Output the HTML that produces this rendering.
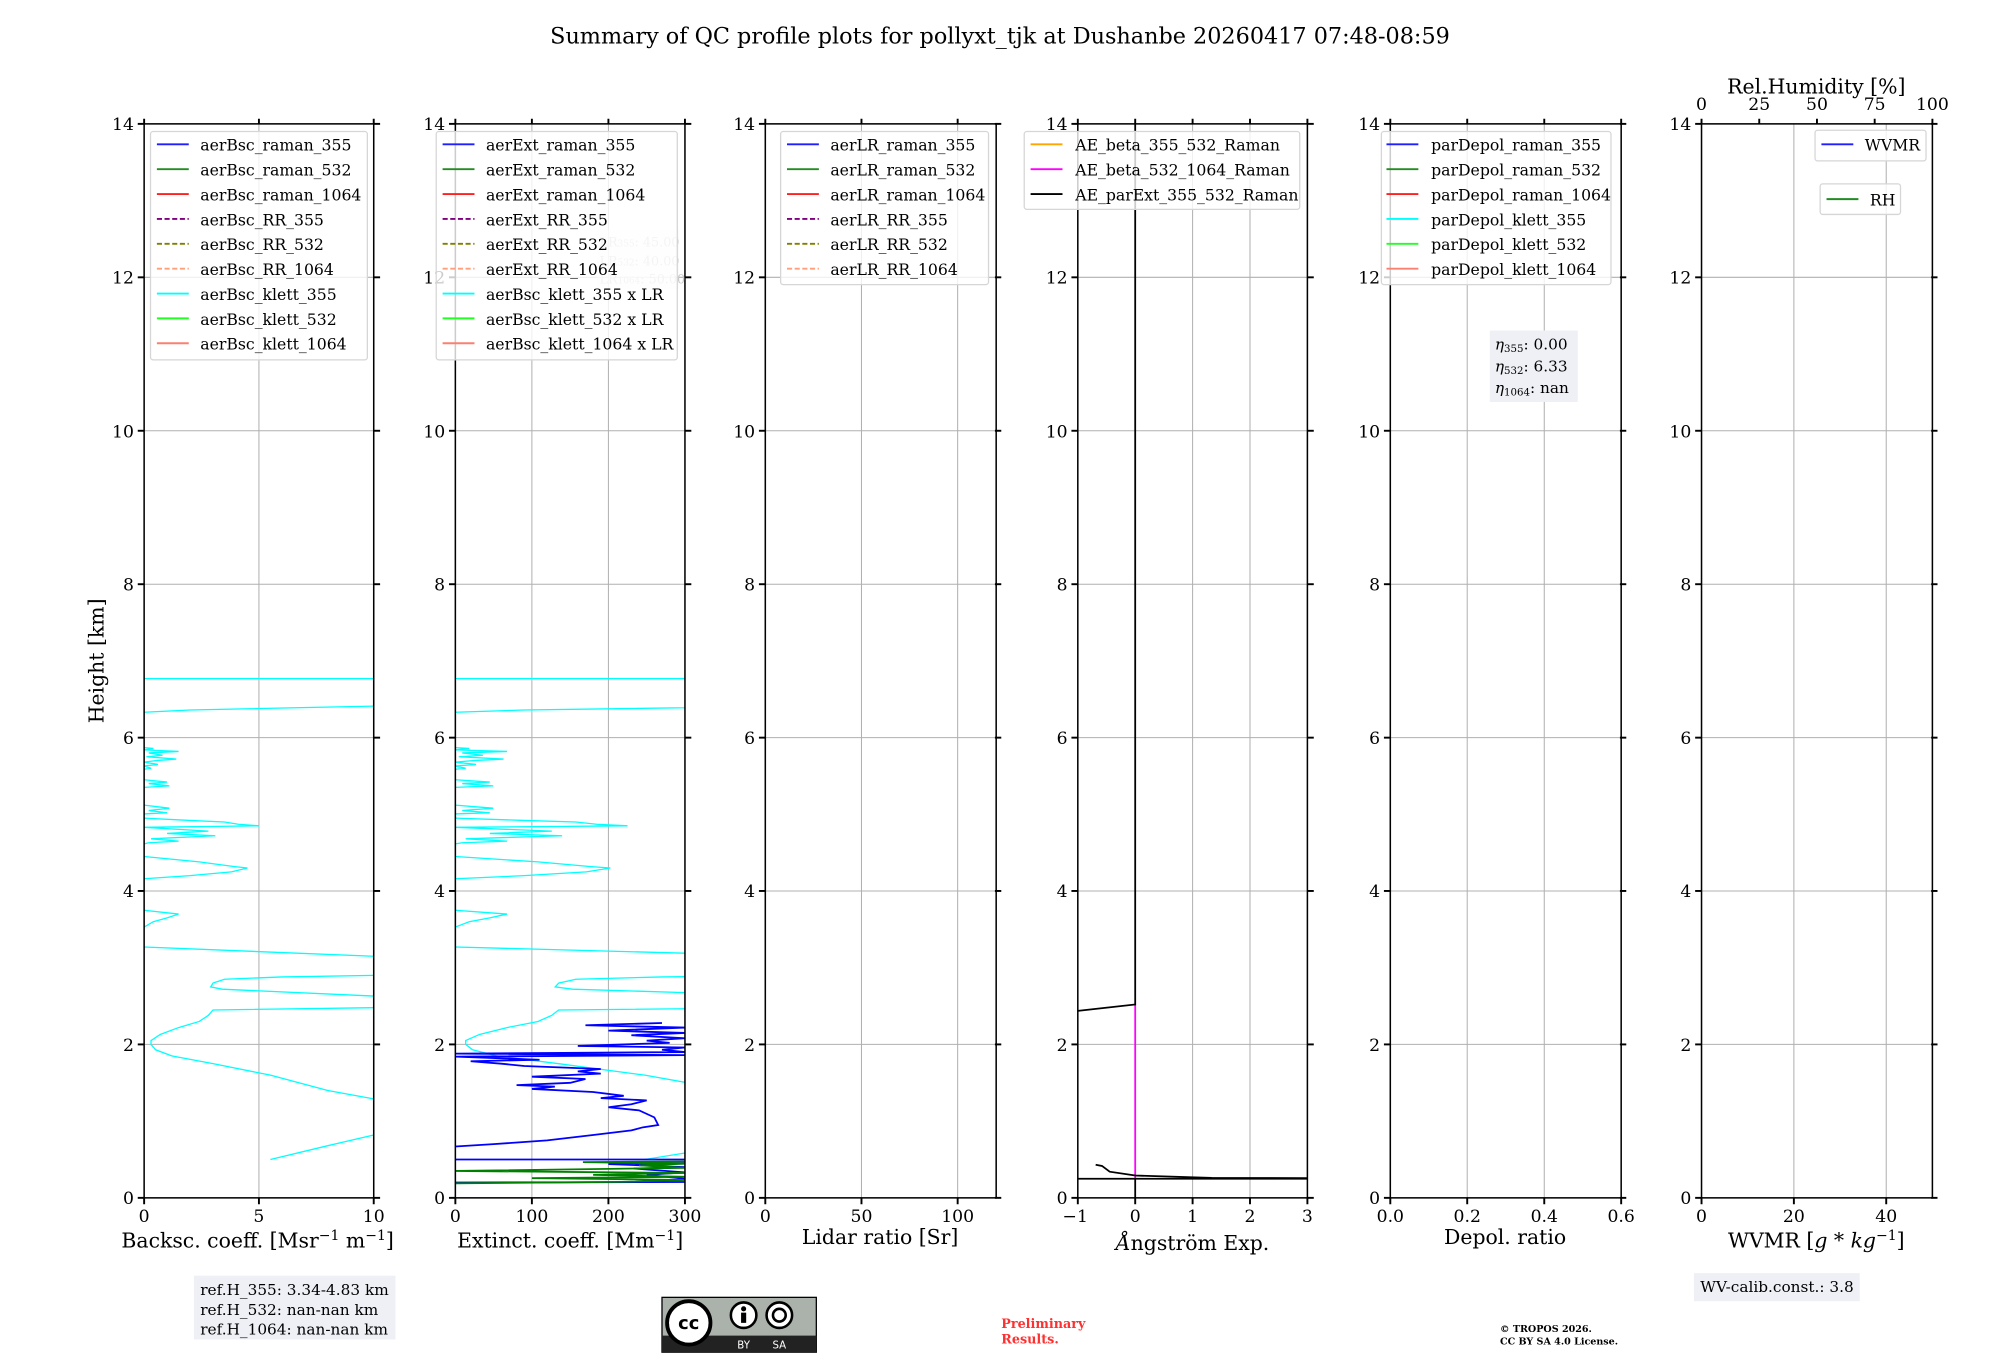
<!DOCTYPE html>
<html><head><meta charset="utf-8"><style>
html,body{margin:0;padding:0;background:#fff;}
svg{display:block;}
text{font-family:"DejaVu Serif","Liberation Serif",serif;}
.tk{font-size:13.5px;}
.al{font-size:16px;}
.lg{font-size:12.3px;}
</style></head><body>
<svg width="2000" height="1360" viewBox="0 0 1568 1066" xmlns="http://www.w3.org/2000/svg">
<defs>
<g id="hgrid" stroke="#b0b0b0" stroke-width="0.8">
<line x1="0" x2="180" y1="818.7" y2="818.7"/><line x1="0" x2="180" y1="698.4" y2="698.4"/>
<line x1="0" x2="180" y1="578.2" y2="578.2"/><line x1="0" x2="180" y1="457.9" y2="457.9"/>
<line x1="0" x2="180" y1="337.6" y2="337.6"/><line x1="0" x2="180" y1="217.3" y2="217.3"/>
</g>
<g id="yt" stroke="#000" stroke-width="1.5">
<line x1="-5" x2="0" y1="939" y2="939"/><line x1="-5" x2="0" y1="818.7" y2="818.7"/><line x1="-5" x2="0" y1="698.4" y2="698.4"/><line x1="-5" x2="0" y1="578.2" y2="578.2"/><line x1="-5" x2="0" y1="457.9" y2="457.9"/><line x1="-5" x2="0" y1="337.6" y2="337.6"/><line x1="-5" x2="0" y1="217.3" y2="217.3"/><line x1="-5" x2="0" y1="97" y2="97"/>
<line x1="180" x2="185" y1="939" y2="939"/><line x1="180" x2="185" y1="818.7" y2="818.7"/><line x1="180" x2="185" y1="698.4" y2="698.4"/><line x1="180" x2="185" y1="578.2" y2="578.2"/><line x1="180" x2="185" y1="457.9" y2="457.9"/><line x1="180" x2="185" y1="337.6" y2="337.6"/><line x1="180" x2="185" y1="217.3" y2="217.3"/><line x1="180" x2="185" y1="97" y2="97"/>
</g>
<g id="cy" fill="none" stroke="#00ffff" stroke-width="1.3">
<path vector-effect="non-scaling-stroke" d="M0 531.9 H180"/>
<path vector-effect="non-scaling-stroke" d="M180 553.5 L36 556.5 L0 558.3"/>
<path vector-effect="non-scaling-stroke" d="M0 586 L7.2 586.6 L0 587.8 L27 589 L3.6 590.2 L14.4 592 L1.8 593.2 L25.2 595 L9 596.2 L0 597.4 L10.8 599.2 L0 600.4 L5.4 602.2 L0 603"/>
<path vector-effect="non-scaling-stroke" d="M0 611.2 L18 613 L3.6 614.2 L19.8 616 L0 617.2"/>
<path vector-effect="non-scaling-stroke" d="M0 631.1 L19.8 633.5 L3.6 635.3 L18 637.1 L0 638"/>
<path vector-effect="non-scaling-stroke" d="M0 641.3 L36 643.1 L63 644.3 L73.8 646.1 L90 647.3 L0 648.5 L50.4 651.5 L18 653.3 L55.8 655.1 L5.4 657.5 L27 659.3 L3.6 660.6 L0 661.5"/>
<path vector-effect="non-scaling-stroke" d="M0 671.4 L43.2 675.6 L70.2 679.2 L81 680.4 L68.4 683.4 L36 686.4 L0 688.8"/>
<path vector-effect="non-scaling-stroke" d="M0 713.5 L27 716.5 L18 719.5 L7.2 722.5 L0 726.7"/>
<path vector-effect="non-scaling-stroke" d="M0 742.3 L180 749.6"/>
<path vector-effect="non-scaling-stroke" d="M180 764.6 L108 765.8 L63 767.6 L54 770.6 L52.2 773.6 L61.2 775.4 L180 780.8"/>
<path vector-effect="non-scaling-stroke" d="M180 789.9 L54 791.7 L50.4 795.9 L43.2 800.7 L27 805.5 L12.6 810.9 L5.4 815.7 L5.4 818.7 L9 822.9 L21.6 827.7 L54 833.8 L99 842.8 L144 854.8 L180 861.4"/>
<path vector-effect="non-scaling-stroke" d="M180 889.7 L144 898.1 L99 908.9"/>
</g>
<clipPath id="c2"><rect x="357" y="97" width="180" height="842"/></clipPath>
</defs>

<text x="784" y="34" text-anchor="middle" style="font-size:17.5px">Summary of QC profile plots for pollyxt_tjk at Dushanbe 20260417 07:48-08:59</text>

<use href="#hgrid" x="113"/><use href="#hgrid" x="357"/><use href="#hgrid" x="600"/><use href="#hgrid" x="845"/><use href="#hgrid" x="1090"/><use href="#hgrid" x="1334"/>
<g stroke="#b0b0b0" stroke-width="0.8">
<line x1="203" x2="203" y1="97" y2="939"/>
<line x1="417" x2="417" y1="97" y2="939"/><line x1="477" x2="477" y1="97" y2="939"/>
<line x1="675.4" x2="675.4" y1="97" y2="939"/><line x1="750.8" x2="750.8" y1="97" y2="939"/>
<line x1="890" x2="890" y1="97" y2="939"/><line x1="935" x2="935" y1="97" y2="939"/><line x1="980" x2="980" y1="97" y2="939"/>
<line x1="1150.3" x2="1150.3" y1="97" y2="939"/><line x1="1210.7" x2="1210.7" y1="97" y2="939"/>
<line x1="1406.4" x2="1406.4" y1="97" y2="939"/><line x1="1478.8" x2="1478.8" y1="97" y2="939"/>
</g>

<use href="#cy" x="113"/>
<g clip-path="url(#c2)">
<g transform="translate(357,0) scale(1.5,1)"><use href="#cy"/></g>
<g transform="translate(357,0)" fill="none" stroke-width="1.4">
<path stroke="#0000ff" d="M162 801.9 L102 803.7 L180 805.5 L120 807.9 L180 809.7 L138 811.5 L180 813.9 L150 815.7 L168 817.5 L96 819.9 L180 821.1 L162 822.9 L180 824.7 L0 825.9 L180 827.1 L0 828.3 L66 830.7 L12 831.9 L36 833.8 L54 835.6 L114 838 L96 839.8 L114 841.6 L60 844 L102 845.8 L90 848.8 L48 850.6 L78 851.8 L60 853.6 L108 856 L132 859 L114 860.8 L150 862.6 L138 865.6 L120 868 L144 870.4 L156 875.9 L159 881.9 L147 883.7 L138 886.1 L108 889.7 L72 893.9 L30 896.9 L0 898.7"/>
<path stroke="#0000ff" d="M0 908.9 L180 908.9 M0 927 L180 926.6 M180 911.9 L120 912.5 L180 914.9 L140 916 L180 919 L150 921 L180 924"/>
<path stroke="#008000" d="M180 910.5 L100 911 L180 912.2 L144 913.5 L180 915.5 L0 917.9 L180 919.5 L108 921 L180 922.5 L60 923.5 L180 925 L130 926.5 L0 927.6"/>
</g>
</g>
<g fill="none" stroke-width="1.4">
<path stroke="#ff00ff" d="M890 787.4 L890 924"/>
<path stroke="#000" d="M890 97 L890 787.4 L845 792.4"/>
<path stroke="#000" d="M845 924 L1025 924 M890 924 L890 939 M859 913 L864 914 L870 918.5 L890 921.5 L950 923.3 L1025 923.5"/>
</g>

<g fill="none" stroke="#000" stroke-width="1.2">
<rect x="113" y="97" width="180" height="842"/><rect x="357" y="97" width="180" height="842"/><rect x="600" y="97" width="181" height="842"/><rect x="845" y="97" width="180" height="842"/><rect x="1090" y="97" width="181" height="842"/><rect x="1334" y="97" width="181" height="842"/>
</g>
<use href="#yt" x="113"/><use href="#yt" x="357"/><use href="#yt" x="600"/><use href="#yt" x="845"/><use href="#yt" x="1090"/><use href="#yt" x="1334"/>
<g stroke="#000" stroke-width="1.5">
<path d="M113 939v5M203 939v5M293 939v5M113 97v-4M203 97v-4M293 97v-4"/>
<path d="M357 939v5M417 939v5M477 939v5M537 939v5M357 97v-4M417 97v-4M477 97v-4M537 97v-4"/>
<path d="M600 939v5M675.4 939v5M750.8 939v5M600 97v-4M675.4 97v-4M750.8 97v-4"/>
<path d="M845 939v5M890 939v5M935 939v5M980 939v5M1025 939v5M845 97v-4M890 97v-4M935 97v-4M980 97v-4M1025 97v-4"/>
<path d="M1090 939v5M1150.3 939v5M1210.7 939v5M1271 939v5M1090 97v-4M1150.3 97v-4M1210.7 97v-4M1271 97v-4"/>
<path d="M1334 939v5M1406.4 939v5M1478.8 939v5M1334 97v-4M1379.25 97v-4M1424.5 97v-4M1469.75 97v-4M1515 97v-4"/>
</g>

<g class="tk" text-anchor="end">
<text x="105" y="944">0</text><text x="105" y="824">2</text><text x="105" y="703">4</text><text x="105" y="583">6</text><text x="105" y="463">8</text><text x="105" y="343">10</text><text x="105" y="222">12</text><text x="105" y="102">14</text>
<text x="349" y="944">0</text><text x="349" y="824">2</text><text x="349" y="703">4</text><text x="349" y="583">6</text><text x="349" y="463">8</text><text x="349" y="343">10</text><text x="349" y="222">12</text><text x="349" y="102">14</text>
<text x="592" y="944">0</text><text x="592" y="824">2</text><text x="592" y="703">4</text><text x="592" y="583">6</text><text x="592" y="463">8</text><text x="592" y="343">10</text><text x="592" y="222">12</text><text x="592" y="102">14</text>
<text x="837" y="944">0</text><text x="837" y="824">2</text><text x="837" y="703">4</text><text x="837" y="583">6</text><text x="837" y="463">8</text><text x="837" y="343">10</text><text x="837" y="222">12</text><text x="837" y="102">14</text>
<text x="1082" y="944">0</text><text x="1082" y="824">2</text><text x="1082" y="703">4</text><text x="1082" y="583">6</text><text x="1082" y="463">8</text><text x="1082" y="343">10</text><text x="1082" y="222">12</text><text x="1082" y="102">14</text>
<text x="1326" y="944">0</text><text x="1326" y="824">2</text><text x="1326" y="703">4</text><text x="1326" y="583">6</text><text x="1326" y="463">8</text><text x="1326" y="343">10</text><text x="1326" y="222">12</text><text x="1326" y="102">14</text>
</g>
<g class="tk" text-anchor="middle">
<text x="113" y="958">0</text><text x="203" y="958">5</text><text x="293" y="958">10</text>
<text x="357" y="958">0</text><text x="417" y="958">100</text><text x="477" y="958">200</text><text x="537" y="958">300</text>
<text x="600" y="958">0</text><text x="675.4" y="958">50</text><text x="750.8" y="958">100</text>
<text x="843" y="958">−1</text><text x="890" y="958">0</text><text x="935" y="958">1</text><text x="980" y="958">2</text><text x="1025" y="958">3</text>
<text x="1090" y="958">0.0</text><text x="1150.3" y="958">0.2</text><text x="1210.7" y="958">0.4</text><text x="1271" y="958">0.6</text>
<text x="1334" y="958">0</text><text x="1406.4" y="958">20</text><text x="1478.8" y="958">40</text>
<text x="1334" y="86">0</text><text x="1379.25" y="86">25</text><text x="1424.5" y="86">50</text><text x="1469.75" y="86">75</text><text x="1515" y="86">100</text>
</g>
<g class="al" text-anchor="middle">
<text x="202" y="978">Backsc. coeff. [Msr<tspan dy="-6" style="font-size:11px">−1</tspan><tspan dy="6"> m</tspan><tspan dy="-6" style="font-size:11px">−1</tspan><tspan dy="6">]</tspan></text>
<text x="447" y="978">Extinct. coeff. [Mm<tspan dy="-6" style="font-size:11px">−1</tspan><tspan dy="6">]</tspan></text>
<text x="690" y="975">Lidar ratio [Sr]</text>
<text x="935" y="980"><tspan font-style="italic">Å</tspan>ngström Exp.</text>
<text x="1180" y="975">Depol. ratio</text>
<text x="1424" y="978">WVMR [<tspan font-style="italic">g</tspan> * <tspan font-style="italic">kg</tspan><tspan dy="-6" style="font-size:11px">−1</tspan><tspan dy="6">]</tspan></text>
<text x="1424" y="73">Rel.Humidity [%]</text>
<text transform="translate(81,518) rotate(-90)">Height [km]</text>
</g>

<rect x="468" y="180" width="64" height="46" fill="#f3f3f6" opacity="0.6"/>
<g style="font-size:10px;fill:#c8c8c8"><text x="470" y="193">LR<tspan style="font-size:7px">355</tspan>: 45.00</text><text x="470" y="208">LR<tspan style="font-size:7px">532</tspan>: 40.00</text><text x="470" y="222">LR<tspan style="font-size:7px">1064</tspan>: 50.00</text></g>

<g fill="#fff" fill-opacity="0.8" stroke="#d6d6d6" stroke-width="1">
<rect x="118" y="103" width="170" height="179" rx="2"/>
<rect x="342" y="103" width="189" height="179" rx="2"/>
<rect x="612" y="103" width="163" height="120" rx="2"/>
<rect x="803" y="103" width="216" height="61" rx="2"/>
<rect x="1083" y="103" width="180" height="120" rx="2"/>
<rect x="1423" y="102" width="87" height="24" rx="2"/>
<rect x="1427" y="144" width="63" height="24" rx="2"/>
</g>
<g stroke-width="1.5" fill="none">
<g transform="translate(123,0)"><path stroke="#1f1fff" d="M0 113h25"/><path stroke="#228b22" d="M0 132.5h25"/><path stroke="#ff2020" d="M0 152h25"/><path stroke="#800080" stroke-dasharray="4 2" d="M0 171.5h25"/><path stroke="#808000" stroke-dasharray="4 2" d="M0 191h25"/><path stroke="#ffa07a" stroke-dasharray="4 2" d="M0 210.5h25"/><path stroke="#00ffff" d="M0 230h25"/><path stroke="#22ff22" d="M0 249.5h25"/><path stroke="#fa8072" d="M0 269h25"/></g>
<g transform="translate(347,0)"><path stroke="#1f1fff" d="M0 113h25"/><path stroke="#228b22" d="M0 132.5h25"/><path stroke="#ff2020" d="M0 152h25"/><path stroke="#800080" stroke-dasharray="4 2" d="M0 171.5h25"/><path stroke="#808000" stroke-dasharray="4 2" d="M0 191h25"/><path stroke="#ffa07a" stroke-dasharray="4 2" d="M0 210.5h25"/><path stroke="#00ffff" d="M0 230h25"/><path stroke="#22ff22" d="M0 249.5h25"/><path stroke="#fa8072" d="M0 269h25"/></g>
<g transform="translate(617,0)"><path stroke="#1f1fff" d="M0 113h25"/><path stroke="#228b22" d="M0 132.5h25"/><path stroke="#ff2020" d="M0 152h25"/><path stroke="#800080" stroke-dasharray="4 2" d="M0 171.5h25"/><path stroke="#808000" stroke-dasharray="4 2" d="M0 191h25"/><path stroke="#ffa07a" stroke-dasharray="4 2" d="M0 210.5h25"/></g>
<g transform="translate(808,0)"><path stroke="#ffa500" d="M0 113h25"/><path stroke="#ff00ff" d="M0 132.5h25"/><path stroke="#000" d="M0 152h25"/></g>
<g transform="translate(1087,0)"><path stroke="#1f1fff" d="M0 113h25"/><path stroke="#228b22" d="M0 132.5h25"/><path stroke="#ff2020" d="M0 152h25"/><path stroke="#00ffff" d="M0 171.5h25"/><path stroke="#22ff22" d="M0 191h25"/><path stroke="#fa8072" d="M0 210.5h25"/></g>
<path stroke="#1f1fff" d="M1428 113h25"/><path stroke="#228b22" d="M1432 156h25"/>
</g>
<g class="lg">
<text x="157" y="118">aerBsc_raman_355</text><text x="157" y="137.5">aerBsc_raman_532</text><text x="157" y="157">aerBsc_raman_1064</text><text x="157" y="176.5">aerBsc_RR_355</text><text x="157" y="196">aerBsc_RR_532</text><text x="157" y="215.5">aerBsc_RR_1064</text><text x="157" y="235">aerBsc_klett_355</text><text x="157" y="254.5">aerBsc_klett_532</text><text x="157" y="274">aerBsc_klett_1064</text>
<text x="381" y="118">aerExt_raman_355</text><text x="381" y="137.5">aerExt_raman_532</text><text x="381" y="157">aerExt_raman_1064</text><text x="381" y="176.5">aerExt_RR_355</text><text x="381" y="196">aerExt_RR_532</text><text x="381" y="215.5">aerExt_RR_1064</text><text x="381" y="235">aerBsc_klett_355 x LR</text><text x="381" y="254.5">aerBsc_klett_532 x LR</text><text x="381" y="274">aerBsc_klett_1064 x LR</text>
<text x="651" y="118">aerLR_raman_355</text><text x="651" y="137.5">aerLR_raman_532</text><text x="651" y="157">aerLR_raman_1064</text><text x="651" y="176.5">aerLR_RR_355</text><text x="651" y="196">aerLR_RR_532</text><text x="651" y="215.5">aerLR_RR_1064</text>
<text x="843" y="118">AE_beta_355_532_Raman</text><text x="843" y="137.5">AE_beta_532_1064_Raman</text><text x="843" y="157">AE_parExt_355_532_Raman</text>
<text x="1122" y="118">parDepol_raman_355</text><text x="1122" y="137.5">parDepol_raman_532</text><text x="1122" y="157">parDepol_raman_1064</text><text x="1122" y="176.5">parDepol_klett_355</text><text x="1122" y="196">parDepol_klett_532</text><text x="1122" y="215.5">parDepol_klett_1064</text>
<text x="1462" y="118">WVMR</text><text x="1466" y="161">RH</text>
</g>

<rect x="1168" y="259" width="69" height="56" fill="#eef0f5"/>
<g style="font-size:12px"><text x="1172" y="274"><tspan font-style="italic">η</tspan><tspan style="font-size:8px" dy="2">355</tspan><tspan dy="-2">: 0.00</tspan></text>
<text x="1172" y="291"><tspan font-style="italic">η</tspan><tspan style="font-size:8px" dy="2">532</tspan><tspan dy="-2">: 6.33</tspan></text>
<text x="1172" y="308"><tspan font-style="italic">η</tspan><tspan style="font-size:8px" dy="2">1064</tspan><tspan dy="-2">: nan</tspan></text></g>

<rect x="152" y="1000" width="158" height="50" fill="#eef0f5"/>
<g style="font-size:12px"><text x="157" y="1015">ref.H_355: 3.34-4.83 km</text><text x="157" y="1031">ref.H_532: nan-nan km</text><text x="157" y="1046">ref.H_1064: nan-nan km</text></g>
<rect x="1328" y="998" width="130" height="22" fill="#eef0f5"/>
<text x="1333" y="1013" style="font-size:12px">WV-calib.const.: 3.8</text>

<g>
<rect x="519" y="1017" width="121" height="43" fill="#aab2ab" stroke="#000" stroke-width="1"/>
<rect x="519" y="1047" width="121" height="13" fill="#222"/>
<circle cx="540" cy="1037" r="17" fill="#fff" stroke="#000" stroke-width="3"/>
<text x="540" y="1042" text-anchor="middle" style="font-size:14px;font-weight:bold;font-family:'DejaVu Sans',sans-serif">cc</text>
<circle cx="583" cy="1031" r="10" fill="#fff" stroke="#000" stroke-width="2"/>
<circle cx="583" cy="1026" r="2" fill="#000"/><rect x="581" y="1029" width="4" height="8" fill="#000"/>
<circle cx="611" cy="1031" r="10" fill="#fff" stroke="#000" stroke-width="2"/>
<circle cx="611" cy="1031" r="5" fill="none" stroke="#000" stroke-width="2"/>
<text x="583" y="1057" text-anchor="middle" style="font-size:8px;font-family:'DejaVu Sans',sans-serif;fill:#fff">BY</text>
<text x="611" y="1057" text-anchor="middle" style="font-size:8px;font-family:'DejaVu Sans',sans-serif;fill:#fff">SA</text>
</g>
<g style="font-size:10px;font-weight:bold;fill:#ff3030"><text x="785" y="1041">Preliminary</text><text x="785" y="1053">Results.</text></g>
<g style="font-size:7.5px;font-weight:bold"><text x="1176" y="1044">© TROPOS 2026.</text><text x="1176" y="1054">CC BY SA 4.0 License.</text></g>
</svg>
</body></html>
